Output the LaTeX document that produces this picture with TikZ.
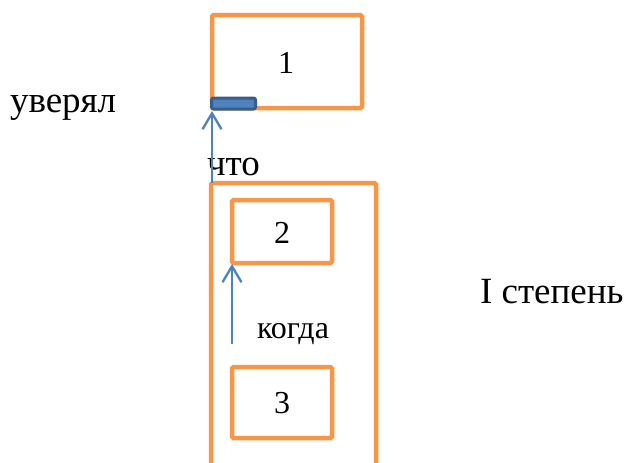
\documentclass[tikz,border=0pt]{standalone}
\usepackage{fontspec}
\setmainfont{Liberation Serif}
\usetikzlibrary{arrows.meta}
\definecolor{boxorange}{HTML}{F79646}
\definecolor{barblue}{HTML}{4F81BD}
\definecolor{bardark}{HTML}{385D8A}
\tikzset{
  obox/.style={draw=boxorange, line width=4.5pt, rounded corners=1.5pt, inner sep=0pt, outer sep=0pt},
  lbl/.style={inner sep=0pt, outer sep=0pt, font=\fontsize{37}{40}\selectfont},
  smalllbl/.style={inner sep=0pt, outer sep=0pt, font=\fontsize{32}{35}\selectfont},
  conn/.style={draw=barblue, line width=2.3pt, -{Straight Barb[length=16pt,width=19pt,line width=2.3pt]}},
}
\begin{document}
\begin{tikzpicture}[x=1pt,y=-1pt]
\useasboundingbox (0,0) rectangle (627,463);
\begin{scope}
\clip (0,0) rectangle (627,463);
\node[obox, minimum width=165pt, minimum height=317pt] (big) at (293.5,341.5) {};
\end{scope}
\node[obox, minimum width=150pt, minimum height=93pt] (b1) at (287,61.5) {};
\node[smalllbl] (n1) at (286,62.5) {1};
\node[draw=bardark, fill=barblue, line width=3pt, rounded corners=2pt, minimum width=44pt, minimum height=11pt, inner sep=0pt, outer sep=0pt] (bar) at (233.5,103.5) {};
\node[obox, minimum width=100pt, minimum height=63pt] (b2) at (282,231.5) {};
\node[smalllbl] (n2) at (282,233) {2};
\node[obox, minimum width=100pt, minimum height=71pt] (b3) at (282,402.5) {};
\node[smalllbl] (n3) at (282,403) {3};
\node[lbl, anchor=base west] (uv) at (10,112) {уверял};
\node[lbl, anchor=base west] (chto) at (207,175) {что};
\node[smalllbl, anchor=base west] (kogda) at (257,338) {когда};
\node[lbl, anchor=base west] (step) at (480,303) {I степень};
\coordinate (a1s) at (212,183);
\coordinate (a1e) at (212,111);
\coordinate (a2s) at (232,344);
\coordinate (a2e) at (232,264);
\draw[conn] (a1s) -- (a1e);
\draw[conn] (a2s) -- (a2e);
\end{tikzpicture}
\end{document}
